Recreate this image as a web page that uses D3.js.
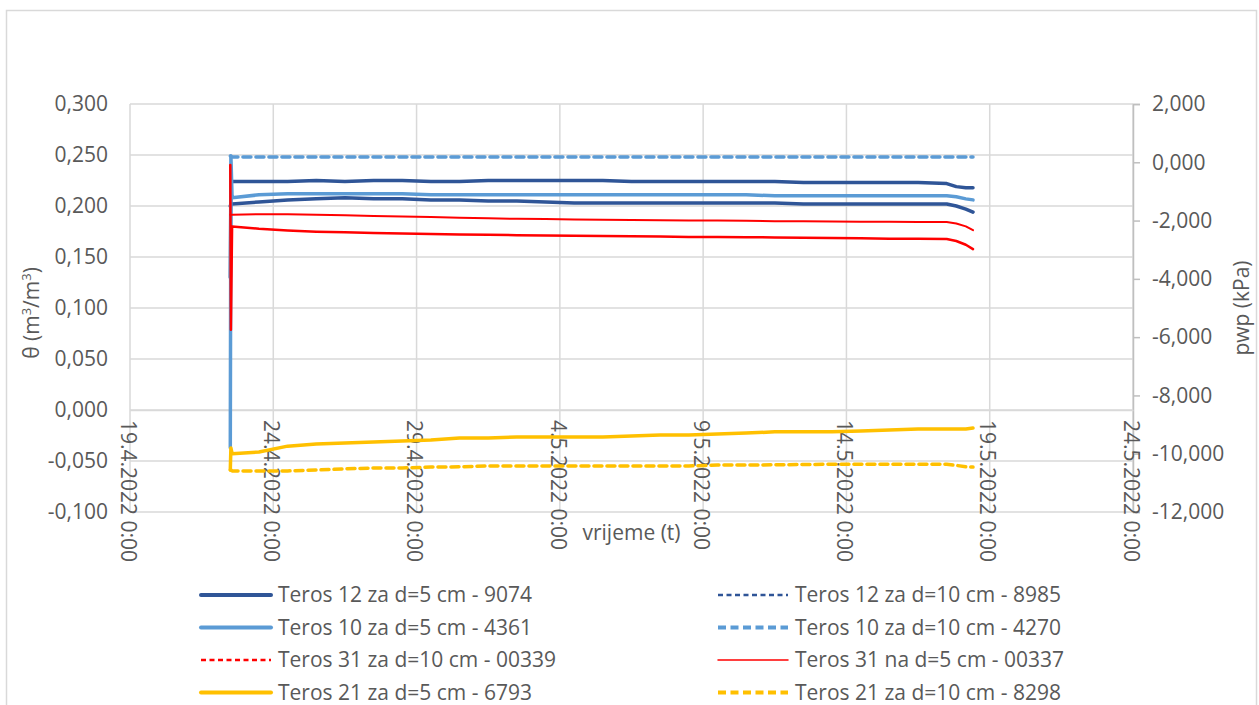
<!DOCTYPE html>
<html>
<head>
<meta charset="utf-8">
<script src="https://cdn.jsdelivr.net/npm/d3@7"></script>
<style>
  html, body { margin: 0; padding: 0; background: #fff; }
  svg { display: block; font-family: "Open Sans", "Liberation Sans", sans-serif; }
</style>
</head>
<body>
<svg id="chart" width="1259" height="705"></svg>
<script>
// ---------------- DATA ----------------
const times = [
  "2022-04-22T12:00", "2022-04-22T12:30", "2022-04-22T13:30",
  "2022-04-23T12:00", "2022-04-24T12:00", "2022-04-25T12:00", "2022-04-26T12:00",
  "2022-04-27T12:00", "2022-04-28T12:00", "2022-04-29T12:00", "2022-04-30T12:00",
  "2022-05-01T12:00", "2022-05-02T12:00", "2022-05-03T12:00", "2022-05-04T12:00",
  "2022-05-05T12:00", "2022-05-06T12:00", "2022-05-07T12:00", "2022-05-08T12:00",
  "2022-05-09T12:00", "2022-05-10T12:00", "2022-05-11T12:00", "2022-05-12T12:00",
  "2022-05-13T12:00", "2022-05-14T12:00", "2022-05-15T12:00", "2022-05-16T12:00",
  "2022-05-17T12:00", "2022-05-17T20:00", "2022-05-18T04:00", "2022-05-18T10:00"
];

// left axis: theta (m3/m3)
const teros12_d5_9074 = [0.130, 0.224, 0.224,
  0.224, 0.224, 0.225, 0.224, 0.225, 0.225, 0.224, 0.224,
  0.225, 0.225, 0.225, 0.225, 0.225, 0.224, 0.224, 0.224,
  0.224, 0.224, 0.224, 0.223, 0.223, 0.223, 0.223, 0.223,
  0.222, 0.219, 0.218, 0.218];
const teros12_d10_8985 = [0.200, 0.202, 0.202,
  0.204, 0.206, 0.207, 0.208, 0.207, 0.207, 0.206, 0.206,
  0.205, 0.205, 0.204, 0.203, 0.203, 0.203, 0.203, 0.203,
  0.203, 0.203, 0.203, 0.202, 0.202, 0.202, 0.202, 0.202,
  0.202, 0.200, 0.197, 0.194];
const teros10_d5_4361 = [-0.037, 0.249, 0.208,
  0.211, 0.212, 0.212, 0.212, 0.212, 0.212, 0.211, 0.211,
  0.211, 0.211, 0.211, 0.211, 0.211, 0.211, 0.211, 0.211,
  0.211, 0.211, 0.210, 0.210, 0.210, 0.210, 0.210, 0.210,
  0.210, 0.209, 0.207, 0.206];
const teros10_d10_4270 = [0.249, 0.249, 0.248,
  0.248, 0.248, 0.248, 0.248, 0.248, 0.248, 0.248, 0.248,
  0.248, 0.248, 0.248, 0.248, 0.248, 0.248, 0.248, 0.248,
  0.248, 0.248, 0.248, 0.248, 0.248, 0.248, 0.248, 0.248,
  0.248, 0.248, 0.248, 0.248];

// right axis: pwp (kPa)
const teros31_d10_00339 = [-0.09, -5.75, -2.20,
  -2.28, -2.34, -2.38, -2.40, -2.43, -2.44, -2.46, -2.48,
  -2.49, -2.50, -2.51, -2.52, -2.53, -2.54, -2.55, -2.56,
  -2.56, -2.57, -2.58, -2.59, -2.60, -2.61, -2.62, -2.62,
  -2.63, -2.70, -2.83, -2.98];
const teros31_d5_00337 = [-1.80, -1.80, -1.80,
  -1.78, -1.78, -1.80, -1.82, -1.84, -1.86, -1.88, -1.90,
  -1.92, -1.94, -1.95, -1.96, -1.97, -1.98, -1.99, -2.00,
  -2.00, -2.01, -2.02, -2.02, -2.03, -2.04, -2.04, -2.05,
  -2.05, -2.10, -2.20, -2.33];
const teros21_d5_6793 = [-10.56, -9.80, -10.00,
  -9.94, -9.74, -9.67, -9.63, -9.60, -9.56, -9.53, -9.46,
  -9.46, -9.43, -9.43, -9.43, -9.43, -9.39, -9.36, -9.36,
  -9.32, -9.29, -9.25, -9.25, -9.25, -9.22, -9.19, -9.15,
  -9.15, -9.15, -9.15, -9.12];
const teros21_d10_8298 = [-10.56, -10.56, -10.59,
  -10.59, -10.59, -10.56, -10.52, -10.49, -10.49, -10.46, -10.45,
  -10.42, -10.42, -10.42, -10.42, -10.42, -10.42, -10.42, -10.42,
  -10.39, -10.39, -10.38, -10.37, -10.36, -10.36, -10.36, -10.36,
  -10.36, -10.40, -10.45, -10.46];

const xTickLabels = ["19.4.2022 0:00", "24.4.2022 0:00", "29.4.2022 0:00", "4.5.2022 0:00",
                     "9.5.2022 0:00", "14.5.2022 0:00", "19.5.2022 0:00", "24.5.2022 0:00"];
const xTickDates = ["2022-04-19T00:00", "2022-04-24T00:00", "2022-04-29T00:00", "2022-05-04T00:00",
                    "2022-05-09T00:00", "2022-05-14T00:00", "2022-05-19T00:00", "2022-05-24T00:00"];
const leftTicks = [0.3, 0.25, 0.2, 0.15, 0.1, 0.05, 0, -0.05, -0.1];
const rightTicks = [2, 0, -2, -4, -6, -8, -10, -12];

const seriesNames = [
  "Teros 12 za d=5 cm - 9074", "Teros 12 za d=10 cm - 8985",
  "Teros 10 za d=5 cm - 4361", "Teros 10 za d=10 cm - 4270",
  "Teros 31 za d=10 cm - 00339", "Teros 31 na d=5 cm - 00337",
  "Teros 21 za d=5 cm - 6793", "Teros 21 za d=10 cm - 8298"
];

// ---------------- STYLES ----------------
const parse = d3.timeParse("%Y-%m-%dT%H:%M");
const fmt = d3.format(".3f");
const comma = v => fmt(v).replace(".", ",").replace("\u2212", "-");
const SIZE = 21;

const styles = [
  {values: teros12_d5_9074, axis: "L", color: "#2F5597", w: 3.5, dash: null, legendW: 4, legendDash: null},
  {values: teros12_d10_8985, axis: "L", color: "#2F5597", w: 3.5, dash: null, legendW: 2.5, legendDash: "5,3.5"},
  {values: teros10_d5_4361, axis: "L", color: "#5B9BD5", w: 3.5, dash: null, legendW: 4, legendDash: null},
  {values: teros10_d10_4270, axis: "L", color: "#5B9BD5", w: 3.5, dash: "8,5", legendW: 4, legendDash: "8,4.5"},
  {values: teros31_d10_00339, axis: "R", color: "#FF0000", w: 2.5, dash: null, legendW: 2.5, legendDash: "5,3.5"},
  {values: teros31_d5_00337, axis: "R", color: "#FF0000", w: 2, dash: null, legendW: 1.5, legendDash: null},
  {values: teros21_d5_6793, axis: "R", color: "#FFC000", w: 3.5, dash: null, legendW: 4, legendDash: null},
  {values: teros21_d10_8298, axis: "R", color: "#FFC000", w: 3.5, dash: "8,5", legendW: 4, legendDash: "8,4.5"}
];

// ---------------- LAYOUT ----------------
const svg = d3.select("#chart");
const plot = {left: 130, right: 1133, top: 104, bottom: 512};

svg.append("rect").attr("x", 6.5).attr("y", 10.5).attr("width", 1250).attr("height", 720)
  .attr("fill", "#fff").attr("stroke", "#D9D9D9").attr("stroke-width", 1.5);

const x = d3.scaleTime()
  .domain([parse(xTickDates[0]), parse(xTickDates[xTickDates.length - 1])])
  .range([plot.left, plot.right]);
const yL = d3.scaleLinear().domain([-0.1, 0.3]).range([plot.bottom, plot.top]);
const yR = d3.scaleLinear().domain([-12, 2]).range([plot.bottom, plot.top]);

// gridlines
const grid = svg.append("g");
grid.selectAll("line.h").data(leftTicks).enter().append("line")
  .attr("x1", plot.left).attr("x2", plot.right)
  .attr("y1", d => yL(d)).attr("y2", d => yL(d))
  .attr("stroke", "#D9D9D9").attr("stroke-width", 1.5);
grid.selectAll("line.v").data(xTickDates).enter().append("line")
  .attr("x1", d => x(parse(d))).attr("x2", d => x(parse(d)))
  .attr("y1", plot.top).attr("y2", plot.bottom)
  .attr("stroke", "#D9D9D9").attr("stroke-width", 1.5);

// left axis labels
const leftAxis = d3.axisLeft(yL).tickValues(leftTicks).tickFormat(comma).tickSize(0).tickPadding(22);
const gL = svg.append("g").attr("transform", `translate(${plot.left},0)`).call(leftAxis);
gL.select(".domain").remove();
gL.selectAll("text").attr("font-size", SIZE).attr("fill", "#595959").attr("font-family", "Open Sans");

// right axis
const rightAxis = d3.axisRight(yR).tickValues(rightTicks).tickFormat(comma).tickSize(7).tickPadding(12);
const gR = svg.append("g").attr("transform", `translate(${plot.right},0)`).call(rightAxis);
gR.select(".domain").attr("stroke", "#BFBFBF").attr("stroke-width", 1.5);
gR.selectAll(".tick line").attr("stroke", "#BFBFBF").attr("stroke-width", 1.5);
gR.selectAll("text").attr("font-size", SIZE).attr("fill", "#595959").attr("font-family", "Open Sans");

// x axis line at 0 and labels
const xAxis = d3.axisBottom(x).tickValues(xTickDates.map(parse))
  .tickFormat((d, i) => xTickLabels[i]).tickSize(0);
const gX = svg.append("g").attr("transform", `translate(0,${yL(0)})`).call(xAxis);
gX.select(".domain").attr("stroke", "#D9D9D9").attr("stroke-width", 1.5);
gX.selectAll("text")
  .attr("font-size", SIZE).attr("fill", "#595959").attr("font-family", "Open Sans")
  .attr("text-anchor", "start")
  .attr("transform", "rotate(90)")
  .attr("x", 10).attr("y", 3).attr("dy", "0.32em");

// series
const tParsed = times.map(parse);
const lines = svg.append("g");
styles.forEach(s => {
  const yScale = s.axis === "L" ? yL : yR;
  const gen = d3.line().x((d, i) => x(tParsed[i])).y(d => yScale(d));
  lines.append("path").datum(s.values)
    .attr("d", gen)
    .attr("fill", "none")
    .attr("stroke", s.color)
    .attr("stroke-width", s.w)
    .attr("stroke-linejoin", "round")
    .attr("stroke-linecap", "round")
    .attr("stroke-dasharray", s.dash);
});

// axis titles
svg.append("text")
  .attr("transform", `translate(39,${(plot.top + plot.bottom) / 2 + 5}) rotate(-90)`)
  .attr("text-anchor", "middle").attr("font-size", SIZE).attr("fill", "#595959")
  .call(t => {
    t.append("tspan").text("θ (m");
    t.append("tspan").attr("font-size", 13).attr("dy", -8).text("3");
    t.append("tspan").attr("dy", 8).text("/m");
    t.append("tspan").attr("font-size", 13).attr("dy", -8).text("3");
    t.append("tspan").attr("dy", 8).text(")");
  });
svg.append("text")
  .attr("transform", `translate(1249,${(plot.top + plot.bottom) / 2}) rotate(-90)`)
  .attr("text-anchor", "middle").attr("font-size", SIZE).attr("fill", "#595959")
  .text("pwp (kPa)");
svg.append("text")
  .attr("x", (plot.left + plot.right) / 2).attr("y", 540)
  .attr("text-anchor", "middle").attr("font-size", SIZE).attr("fill", "#595959")
  .text("vrijeme (t)");

// legend
const legend = svg.append("g");
const colX = [201, 718];
const rowY0 = 595, rowDY = 32.5;
seriesNames.forEach((name, i) => {
  const s = styles[i];
  const cx = colX[i % 2];
  const cy = rowY0 + Math.floor(i / 2) * rowDY;
  legend.append("line")
    .attr("x1", cx).attr("x2", cx + 70).attr("y1", cy).attr("y2", cy)
    .attr("stroke", s.color).attr("stroke-width", s.legendW)
    .attr("stroke-linecap", s.legendDash ? "butt" : "round")
    .attr("stroke-dasharray", s.legendDash);
  legend.append("text")
    .attr("x", cx + 77).attr("y", cy).attr("dy", "0.35em")
    .attr("font-size", SIZE).attr("fill", "#595959")
    .text(name);
});
</script>
</body>
</html>
